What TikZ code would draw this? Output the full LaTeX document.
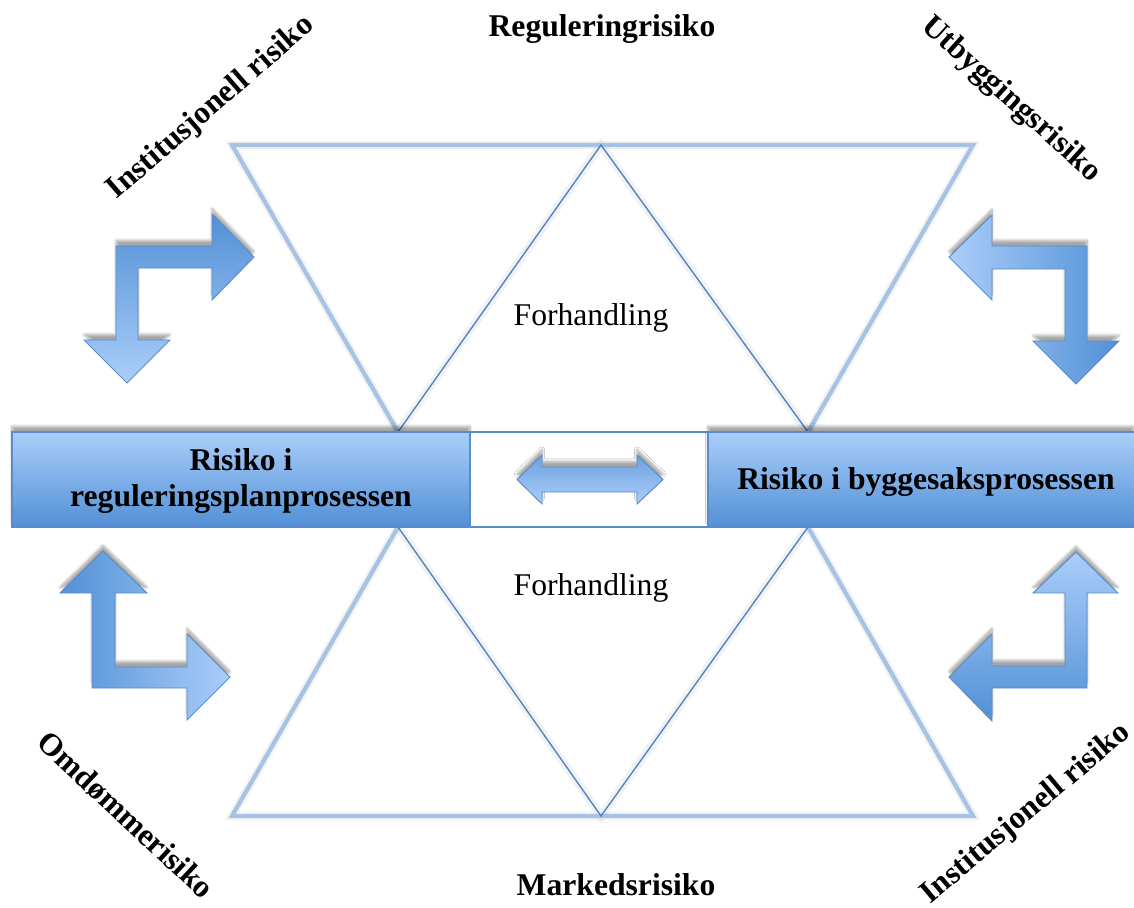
\documentclass[tikz,border=0pt]{standalone}
\usepackage{fontspec}
\setmainfont{Liberation Serif}
\usetikzlibrary{shadows.blur}

\definecolor{arrdark}{HTML}{5290D6}
\definecolor{arrlight}{HTML}{AACEFA}
\definecolor{edgeblue}{HTML}{5A8CCB}
\definecolor{paleline}{HTML}{A6C3E6}
\definecolor{thinline}{HTML}{4F86C6}

\begin{document}
\begin{tikzpicture}[x=0.025cm, y=-0.025cm,
  softshadow/.style={blur shadow={shadow xshift=0pt, shadow yshift=4pt, shadow opacity=35, shadow blur steps=8}},
  bentarrow/.style={draw=edgeblue, line width=0.7pt, line join=miter, softshadow},
  riskbox/.style={draw=edgeblue, line width=0.8pt, top color=arrlight, bottom color=arrdark, softshadow, minimum height=2.375cm, inner sep=0pt},
  midbox/.style={draw=edgeblue, line width=0.8pt, fill=white, minimum height=2.375cm, inner sep=0pt},
  paleedge/.style={draw=paleline, line width=3pt},
  thinedge/.style={draw=thinline, line width=1pt},
  edgeshadow/.style={draw=black, opacity=0.05, line width=6pt, yshift=2pt},
  risklabel/.style={font=\fontsize{22.5}{25}\selectfont\bfseries, align=center},
  plainlabel/.style={font=\fontsize{22.5}{25}\selectfont}
]
\useasboundingbox (0,0) rectangle (1134,908);

\coordinate (tA) at (232,145);
\coordinate (tM) at (601,145);
\coordinate (tB) at (973,145);
\coordinate (tL) at (398,432);
\coordinate (tR) at (808,432);
\coordinate (bA) at (232,816);
\coordinate (bM) at (601,816);
\coordinate (bB) at (973,816);
\coordinate (bL) at (398,527);
\coordinate (bR) at (808,527);

\draw[edgeshadow] (tL) -- (tA) -- (tB) -- (tR);
\draw[edgeshadow] (tL) -- (tM) -- (tR);
\draw[edgeshadow] (bL) -- (bA) -- (bB) -- (bR);
\draw[edgeshadow] (bL) -- (bM) -- (bR);

\draw[paleedge] (tL) -- (tA) -- (tB) -- (tR);
\draw[thinedge] (tL) -- (tM) -- (tR);
\draw[paleedge] (bL) -- (bA) -- (bB) -- (bR);
\draw[thinedge] (bL) -- (bM) -- (bR);

\node[riskbox, minimum width=11.45cm] (regbox) at (241,479.5) {};
\node[midbox, minimum width=5.95cm] (mid) at (589,479.5) {};
\node[riskbox, minimum width=10.65cm] (byggbox) at (921,479.5) {};

\node[risklabel] (regtext) at (241,481) {Risiko i\\reguleringsplanprosessen};
\node[risklabel] (byggtext) at (926,482) {Risiko i byggesaksprosessen};

\path[bentarrow, top color=arrdark!85, bottom color=arrlight] (517,479.5) -- (542,455) -- (542,467) -- (637,467) -- (637,455) -- (663,479.5) -- (637,504) -- (637,492) -- (542,492) -- (542,504) -- cycle;

\path[bentarrow, top color=arrdark, bottom color=arrlight] (116,246) -- (212,246) -- (212,214) -- (254,257) -- (212,300) -- (212,268) -- (138,268) -- (138,340) -- (170,340) -- (127,383) -- (84,340) -- (116,340) -- cycle;
\path[bentarrow, left color=arrdark, right color=arrlight] (103,551) -- (147,593) -- (115,593) -- (115,667) -- (187,667) -- (187,634) -- (230,677) -- (187,720) -- (187,688) -- (92,688) -- (92,593) -- (60,593) -- cycle;
\path[bentarrow, left color=arrlight, right color=arrdark] (949,257) -- (992,215) -- (992,246) -- (1087,246) -- (1087,341) -- (1119,341) -- (1076,384) -- (1033,341) -- (1065,341) -- (1065,269) -- (992,269) -- (992,300) -- cycle;
\path[bentarrow, top color=arrlight, bottom color=arrdark] (1076,552) -- (1118,593) -- (1087,593) -- (1087,688) -- (992,688) -- (992,721) -- (949,677) -- (992,634) -- (992,666) -- (1065,666) -- (1065,593) -- (1033,593) -- cycle;

\node[plainlabel] (forhandTop) at (591,318) {Forhandling};
\node[plainlabel] (forhandBot) at (591,588) {Forhandling};

\node[risklabel] (regulering) at (602,29) {Reguleringrisiko};
\node[risklabel] (marked) at (616,885) {Markedsrisiko};
\node[risklabel, rotate=41] (instTop) at (211,108) {Institusjonell risiko};
\node[risklabel, rotate=-42] (utbygg) at (1011,100) {Utbyggingsrisiko};
\node[risklabel, rotate=-43] (omdomme) at (126,815) {Omdømmerisiko};
\node[risklabel, rotate=40] (instBot) at (1026,814) {Institusjonell risiko};
\end{tikzpicture}
\end{document}
